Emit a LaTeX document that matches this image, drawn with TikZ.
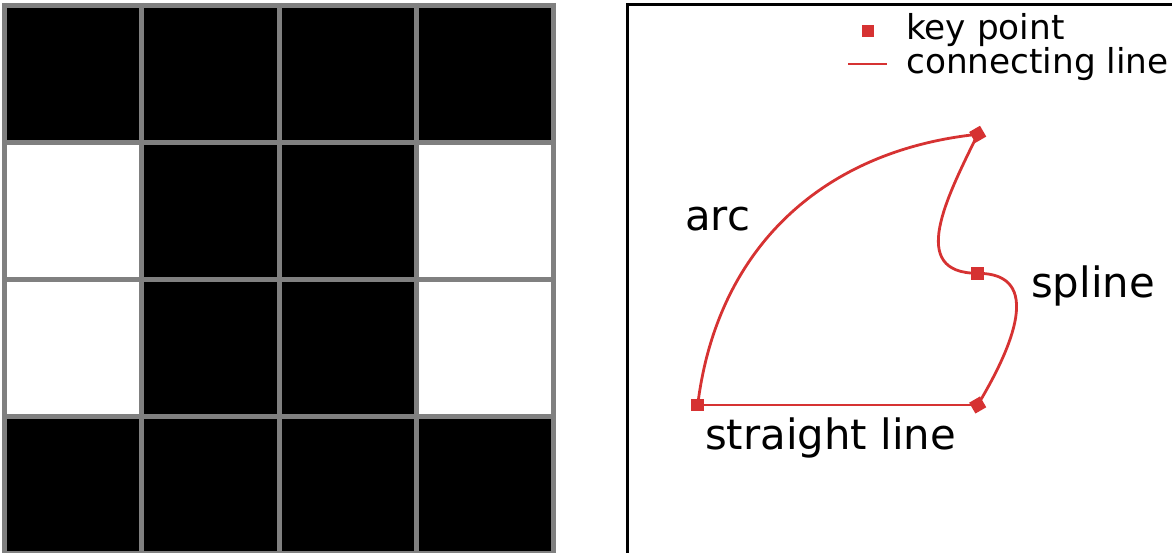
\documentclass[tikz,border=0pt]{standalone}
\usepackage{fontspec}
\setmainfont{DejaVu Sans}
\definecolor{kred}{RGB}{214,50,50}
\definecolor{gridgray}{RGB}{128,128,128}
\tikzset{
  kp/.style={rectangle, fill=kred, draw=none, minimum size=12.5pt, inner sep=0pt},
  conn/.style={draw=kred, line width=2.8pt},
  lbl/.style={anchor=base west, inner sep=0pt, font=\fontsize{41.8}{49}\selectfont},
  leglbl/.style={anchor=base west, inner sep=0pt, font=\fontsize{34.3}{40}\selectfont},
  gridline/.style={draw=gridgray, line width=5pt},
  frameline/.style={draw=black, line width=3.5pt}
}
\begin{document}
\begin{tikzpicture}[x=1pt,y=1pt]
\useasboundingbox (0,0) rectangle (1172,553);
\clip (0,0) rectangle (1172,553);
% ---- left grid ----
\def\gx{137.25}
\def\gy{137}
% black cells (col,row) with row 0 at top
\foreach \c/\r in {0/0,1/0,2/0,3/0, 1/1,2/1, 1/2,2/2, 0/3,1/3,2/3,3/3}{
  \fill[black] ({4.5+\c*\gx},{547.5-\r*\gy}) rectangle ({4.5+(\c+1)*\gx},{547.5-(\r+1)*\gy});
}
\foreach \i in {0,...,4}{
  \draw[gridline] ({4.5+\i*\gx},{550}) -- ({4.5+\i*\gx},{-3});
  \draw[gridline] ({2},{547.5-\i*\gy}) -- ({556},{547.5-\i*\gy});
}
% ---- right frame ----
\draw[frameline] (1180,548.5) -- (627.5,548.5) -- (627.5,-5);
% ---- key points ----
\coordinate (pA) at (697.7,148);
\coordinate (pD) at (977.7,148);
\coordinate (pM) at (977.7,279.7);
\coordinate (pC) at (977.7,418.7);
% connecting lines
\draw[conn] (pA) -- (pD);
\draw[conn] (pA) to[out=83,in=186,looseness=1.03] (pC);
\draw[conn] (pC) to[out=244,in=180,looseness=1.3] (pM);
\draw[conn] (pM) to[out=0,in=59,looseness=1.3] (pD);
% markers
\node[kp] (mA) at (pA) {};
\node[kp] (mM) at (pM) {};
\node[kp, rotate=30] (mC) at (pC) {};
\node[kp, rotate=30] (mD) at (pD) {};
% labels
\node[lbl] (tarc) at (685,322) {arc};
\node[lbl] (tspline) at (1031,255) {spline};
\node[lbl] (tstraight) at (705,103) {straight line};
% legend
\node[kp] (legkp) at (867.8,522.2) {};
\coordinate (legL) at (848.3,489);
\coordinate (legR) at (887.3,489);
\draw[conn] (legL) -- (legR);
\node[leglbl] (tkey) at (906,513) {key point};
\node[leglbl] (tconn) at (906,479.5) {connecting line};
\end{tikzpicture}
\end{document}
